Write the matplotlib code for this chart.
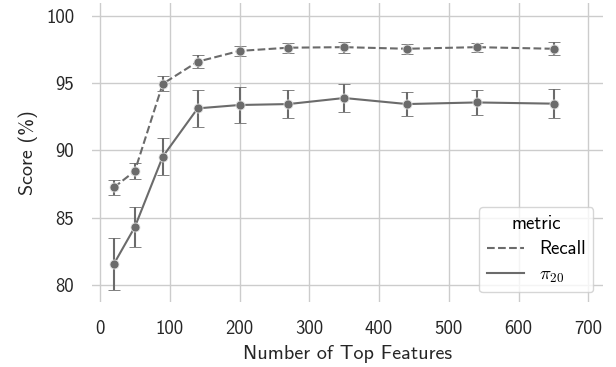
import matplotlib
matplotlib.use("Agg")
import matplotlib.pyplot as plt
from matplotlib.lines import Line2D

n_features = [20, 50, 90, 140, 200, 270, 350, 440, 540, 650]
recall = [87.25, 88.47, 94.95, 96.6, 97.4, 97.64, 97.68, 97.56, 97.68, 97.56]
recall_err = [0.55, 0.62, 0.56, 0.49, 0.4, 0.36, 0.4, 0.37, 0.34, 0.47]
pi20 = [81.57, 84.31, 89.54, 93.13, 93.38, 93.45, 93.9, 93.45, 93.57, 93.48]
pi20_err = [1.93, 1.47, 1.35, 1.37, 1.33, 1.03, 1.05, 0.9, 0.91, 1.08]
xticks = [0, 100, 200, 300, 400, 500, 600, 700]
yticks = [80, 85, 90, 95, 100]

plt.rcParams['font.family'] = ['cmss10', 'DejaVu Sans']
plt.rcParams['mathtext.fontset'] = 'cm'
plt.rcParams['axes.unicode_minus'] = False

fig = plt.figure(figsize=(6.16, 3.67), dpi=100)
ax = fig.add_axes([0.1498, 0.178, 0.8286, 0.813])
col = '#6b6b6b'
ax.errorbar(n_features, recall, yerr=recall_err, color=col, ls='--', lw=1.5,
            marker='o', ms=6.5, mec='#e0e0e0', mew=0.6, capsize=4, capthick=1.5,
            elinewidth=1.5, label='Recall', zorder=3)
ax.errorbar(n_features, pi20, yerr=pi20_err, color=col, ls='-', lw=1.5,
            marker='o', ms=6.5, mec='#e0e0e0', mew=0.6, capsize=4, capthick=1.5,
            elinewidth=1.5, label=r'$\pi_{20}$', zorder=3)
ax.set_xlim(-11, 720.5)
ax.set_ylim(78.76, 100.94)
ax.set_xticks(xticks)
ax.set_yticks(yticks)
ax.grid(True, color='#cccccc', lw=1)
ax.set_axisbelow(True)
for s in ax.spines.values():
    s.set_visible(False)
ax.tick_params(length=0, labelsize=13.5, colors='#262626', pad=13)
ax.set_xlabel('Number of Top Features', fontsize=14.5, color='#262626', labelpad=5)
ax.set_ylabel('Score (%)', fontsize=14.5, color='#262626', labelpad=6)

handles = [Line2D([], [], color=col, ls='--', lw=1.5),
           Line2D([], [], color=col, ls='-', lw=1.5)]
leg = ax.legend(handles, ['Recall', r'$\pi_{20}$'], title='metric', loc='lower right',
                fontsize=13.5, title_fontsize=13.5, frameon=True, framealpha=0.8,
                edgecolor='#cccccc', borderaxespad=0.5, handlelength=2.0,
                labelspacing=0.4)
fig.savefig('out.png', dpi=100)
